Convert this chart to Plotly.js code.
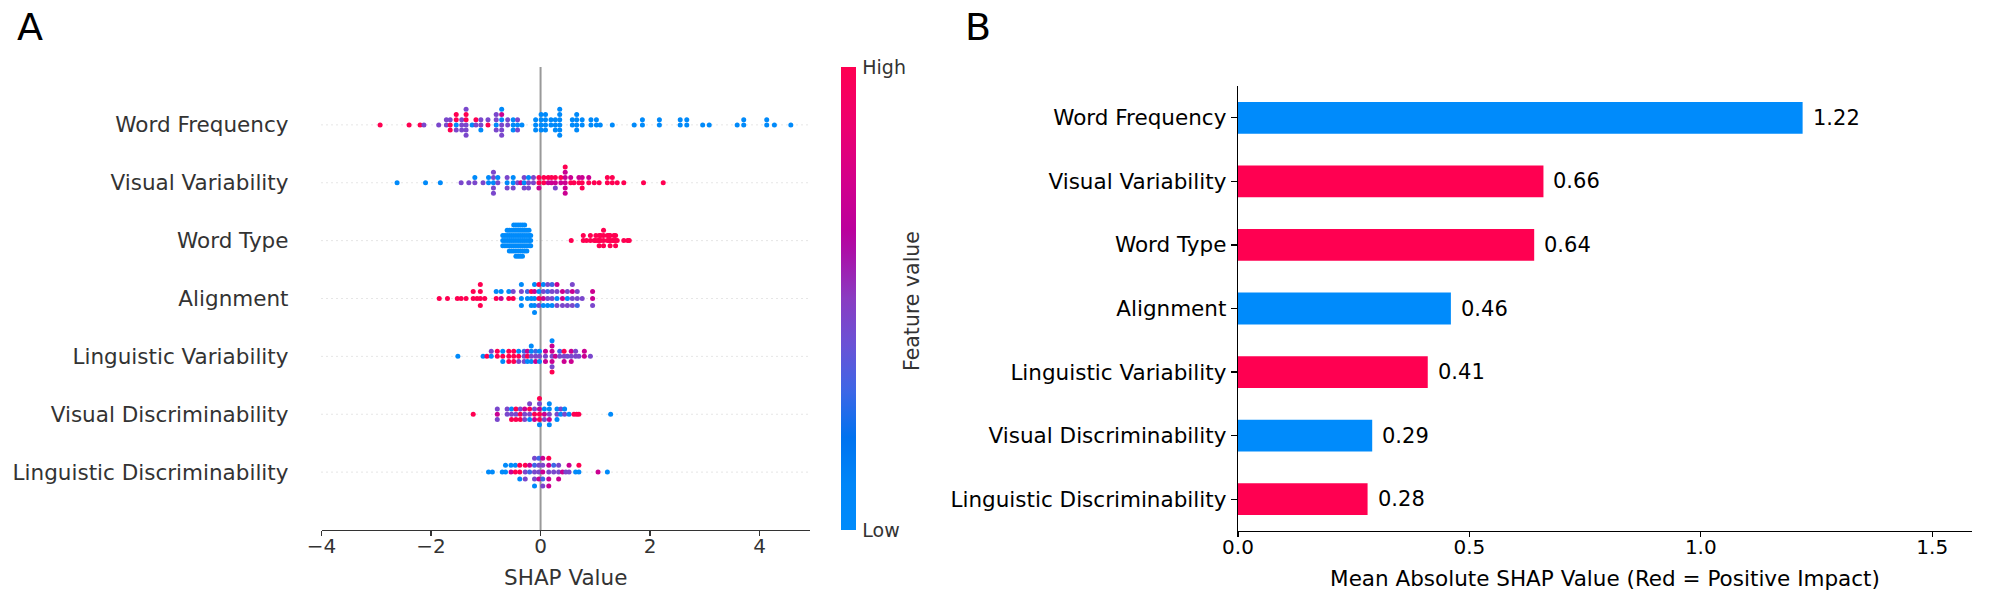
<!DOCTYPE html>
<html><head><meta charset="utf-8">
<script src="https://cdn.plot.ly/plotly-3.0.1.min.js"></script>
<style>html,body{margin:0;padding:0;background:#fff}#chart{width:2000px;height:600px}</style>
</head><body><div id="chart"></div>
<script>
// Feature names, top to bottom
const features = ['Word Frequency','Visual Variability','Word Type','Alignment',
  'Linguistic Variability','Visual Discriminability','Linguistic Discriminability'];

// Feature-value levels (0 = low, 1 = high)
const R = 1, M = 0.72, P = 0.45, V = 0.3, B = 0.03;

// Beeswarm data: [SHAP value, [feature values of samples at that SHAP value]]
const wordFrequency = [
  [-2.93,[R]],[-2.40,[R]],[-2.20,[R]],[-2.13,[P]],[-1.86,[P]],
  [-1.72,[P,P]],[-1.65,[R,P,R]],[-1.54,[B,R,P,R]],[-1.44,[P,P,P]],
  [-1.36,[P,R,P,R,P,P]],[-1.25,[B]],[-1.18,[P,R]],[-1.09,[P,P,B]],
  [-0.96,[R,P]],[-0.81,[B,P,P,P]],[-0.71,[P,B,P,M,P,B]],[-0.60,[P,P]],
  [-0.50,[B,B,B]],[-0.42,[B,P,P]],[-0.34,[B]],
  [-0.09,[B,B,B]],[0.01,[B,B,B,B]],[0.09,[B,B,B,B]],[0.19,[B,B]],[0.27,[B,B,B]],
  [0.35,[B,B,B,B,B,B]],[0.58,[B,B]],[0.66,[B,B,B,B]],[0.76,[B,B]],[0.92,[B,B]],
  [1.02,[B,B]],[1.09,[B]],[1.31,[B]],[1.71,[B]],[1.86,[B,B]],[2.17,[B,B]],
  [2.55,[B,B]],[2.67,[B,B]],[2.96,[B]],[3.08,[B]],[3.59,[B]],[3.71,[B,B]],
  [4.13,[B,B]],[4.27,[B]],[4.57,[B]]
];
const visualVariability = [
  [-2.62,[B]],[-2.10,[B]],[-1.83,[B]],[-1.45,[P]],[-1.31,[P]],[-1.20,[P,B]],
  [-1.05,[P]],[-0.95,[B,B]],[-0.86,[B,P,P,P,P]],[-0.78,[P,B]],[-0.61,[B,P,P]],
  [-0.50,[B,B,P]],[-0.42,[P]],[-0.36,[M]],[-0.30,[B,P,P]],[-0.22,[P,B,P]],
  [-0.13,[P,P]],[-0.03,[R,R,M]],[0.06,[R,R]],[0.14,[M,R]],[0.20,[M,R]],
  [0.27,[M,R,P]],[0.37,[M,R]],[0.45,[M,M,M,M,M,R]],[0.55,[R,M]],[0.61,[R]],
  [0.70,[R,M]],[0.76,[R,M,R]],[0.88,[R,M]],[0.98,[R]],[1.07,[R]],[1.22,[R,R]],
  [1.31,[R,R]],[1.40,[R]],[1.52,[R]],[1.88,[R]],[2.24,[R]]
];
const wordType = [
  [-0.69,[0,0,0]],[-0.65,[0,0,0]],[-0.61,[0,0,0,0]],[-0.57,[0,0,0,0,0]],[-0.53,[0,0,0,0,0]],
  [-0.49,[0,0,0,0,0,0]],[-0.45,[0,0,0,0,0,0,0]],[-0.41,[0,0,0,0,0,0,0]],
  [-0.37,[0,0,0,0,0,0,0]],[-0.33,[0,0,0,0,0,0,0]],[-0.29,[0,0,0,0,0,0]],
  [-0.25,[0,0,0,0,0]],[-0.21,[0,0,0,0]],[-0.18,[0,0,0]],
  [0.56,[1]],[0.78,[1,1]],[0.84,[1]],[0.91,[1,1]],[0.98,[1]],[1.01,[1,1]],[1.05,[1]],
  [1.07,[1,1,1]],[1.10,[1,1]],[1.15,[1,1,1,1]],[1.22,[1,1]],[1.25,[1,1]],[1.27,[1,1,1]],
  [1.31,[1]],[1.34,[1,1]],[1.37,[1,1,1]],[1.40,[1]],[1.52,[1]],[1.59,[1]],[1.62,[1]]
];
const alignment = [
  [-1.85,[R]],[-1.70,[R]],[-1.52,[R]],[-1.45,[R]],[-1.36,[R]],[-1.23,[R,R]],[-1.16,[R]],
  [-1.10,[R,R,R,R]],[-1.02,[R]],[-0.81,[R,B]],[-0.72,[M,B]],[-0.58,[R,B]],[-0.50,[R,P]],
  [-0.35,[B,P,B,B]],[-0.24,[B,V]],[-0.17,[B,R,B]],[-0.11,[B,M,B,B,B]],[-0.03,[R,B,P,R]],
  [0.05,[M,P,B,B]],[0.13,[P,V,B,P]],[0.21,[P,P,B,V]],[0.30,[B,P,P,M]],[0.40,[M,M,P]],
  [0.49,[B,P,P]],[0.58,[P,M,P,P]],[0.67,[P,P,V]],[0.76,[P]],[0.95,[M,M,P]]
];
const linguisticVariability = [
  [-1.51,[B]],[-1.05,[B]],[-0.98,[R]],[-0.90,[B,P]],[-0.79,[R,R]],[-0.69,[R,B,B]],
  [-0.58,[R,R,R]],[-0.49,[R,R,R]],[-0.40,[R,B,P]],[-0.30,[P,V,P]],[-0.24,[R,M,B]],
  [-0.17,[P,B,B,B]],[-0.09,[P,V,M]],[-0.02,[P,B,B]],[0.09,[P,M,M]],
  [0.21,[P,M,M,M,P,B,R]],[0.27,[M]],[0.35,[P,V]],[0.43,[P,R,M]],[0.49,[P]],
  [0.56,[P,M,M]],[0.64,[P,P]],[0.70,[P]],[0.80,[M,M]],[0.91,[P]]
];
const visualDiscriminability = [
  [-1.23,[R]],[-0.79,[M,P,P]],[-0.61,[P,P]],[-0.53,[P,B,R]],[-0.45,[P,R,R]],
  [-0.37,[R,P,R]],[-0.29,[P,M,P]],[-0.20,[P,R,B,P]],[-0.11,[R,P,M]],
  [-0.02,[R,M,R,P,B,R]],[0.07,[M,B,P]],[0.16,[P,B,M,B,B]],[0.30,[P,B,B]],
  [0.37,[B,P]],[0.44,[P,B]],[0.52,[B]],[0.61,[R]],[0.66,[R]],[0.70,[R]],[1.28,[B]]
];
const linguisticDiscriminability = [
  [-0.95,[B]],[-0.88,[B]],[-0.70,[B]],[-0.64,[B,B]],[-0.54,[M,B]],[-0.46,[R,B]],
  [-0.38,[R,R,B]],[-0.28,[P,R,P]],[-0.20,[V,M]],[-0.11,[P,V,P,P,B]],
  [-0.03,[P,P,M,V]],[0.04,[M,P,V,M,P]],[0.15,[P,M,M,R,M]],[0.24,[P,V]],
  [0.33,[P,P,M]],[0.40,[M]],[0.46,[P]],[0.52,[P,M]],[0.64,[B]],[0.70,[B,R]],
  [1.05,[M]],[1.22,[B]]
];

// Panel B data
const meanAbsShap = [1.22, 0.66, 0.64, 0.46, 0.41, 0.29, 0.28];
const positiveImpact = [false, true, true, false, true, false, true];

const rows = [wordFrequency, visualVariability, wordType, alignment,
  linguisticVariability, visualDiscriminability, linguisticDiscriminability];

// SHAP-style beeswarm layering
function beeswarm(vals) {
  const N = vals.length, nbins = 100;
  const mn = Math.min(...vals), mx = Math.max(...vals);
  const quant = vals.map(v => Math.round(nbins * (v - mn) / (mx - mn + 1e-8)));
  const inds = vals.map((_, i) => i).sort((a, b) => quant[a] - quant[b]);
  let layer = 0, last = -1;
  const ys = new Array(N).fill(0);
  for (const ind of inds) {
    if (quant[ind] !== last) layer = 0;
    ys[ind] = Math.ceil(layer / 2) * ((layer % 2) * 2 - 1);
    layer++; last = quant[ind];
  }
  const m = Math.max(...ys.map(y => y + 1));
  return ys.map(y => y * 0.9 * (0.4 / m));
}

const xs = [], ys = [], cs = [];
rows.forEach((row, i) => {
  const pos = features.length - 1 - i;
  const vals = [], feats = [];
  row.forEach(([v, fs]) => fs.forEach(f => { vals.push(v); feats.push(f); }));
  const off = beeswarm(vals);
  vals.forEach((v, k) => { xs.push(v); ys.push(pos + off[k]); cs.push(feats[k]); });
});

const shapScale = [[0,'#008bfb'],[0.1,'#0086f8'],[0.2,'#0072ef'],[0.3,'#3d66e6'],
  [0.4,'#6a52d6'],[0.5,'#8a3cc2'],[0.6,'#ab10a8'],[0.65,'#bb009c'],[0.75,'#d2008c'],
  [0.87,'#ec0070'],[1,'#ff0051']];

const FONT = 'DejaVu Sans';
const W = 2000, H = 600;

const swarm = {
  type: 'scatter', mode: 'markers', x: xs, y: ys, xaxis: 'x', yaxis: 'y',
  hoverinfo: 'skip',
  marker: {
    size: 5, color: cs, cmin: 0, cmax: 1, colorscale: shapScale, line: {width: 0},
    showscale: true,
    colorbar: {
      x: 841 / W, xanchor: 'left', xpad: 0, ypad: 0,
      y: 70 / H, yanchor: 'bottom', len: 463, lenmode: 'pixels',
      thickness: 15, thicknessmode: 'pixels', outlinewidth: 0,
      tickvals: [0, 1], ticktext: ['Low', 'High'],
      ticks: 'outside', ticklen: 3, tickcolor: 'rgba(0,0,0,0)',
      tickfont: {family: FONT, size: 19, color: '#333'}
    }
  }
};

const bars = {
  type: 'bar', orientation: 'h', x: meanAbsShap, y: features,
  xaxis: 'x2', yaxis: 'y2', width: 0.5, hoverinfo: 'skip',
  marker: {color: positiveImpact.map(p => p ? '#ff0051' : '#008bfb'), line: {width: 0}}
};

const shapes = features.map((_, i) => ({
  type: 'line', xref: 'x domain', yref: 'y', x0: 0, x1: 1, y0: i, y1: i,
  line: {color: '#cccccc', width: 1, dash: '1px,4px'}, layer: 'below'
}));
shapes.push({type: 'line', xref: 'x', yref: 'y domain', x0: 0, x1: 0, y0: 0, y1: 1,
  line: {color: '#999999', width: 2}, layer: 'below'});

const annotations = meanAbsShap.map((v, i) => ({
  xref: 'x2', yref: 'y2', x: v, y: features[i], text: v.toFixed(2),
  xanchor: 'left', yanchor: 'middle', xshift: 8, showarrow: false,
  font: {family: FONT, size: 21, color: '#000'}
}));
annotations.push(
  {xref: 'paper', yref: 'paper', x: 30 / W, y: 1 - 27 / H, text: 'A', showarrow: false,
   xanchor: 'center', yanchor: 'middle', font: {family: FONT, size: 38, color: '#000'}},
  {xref: 'paper', yref: 'paper', x: 978 / W, y: 1 - 27 / H, text: 'B', showarrow: false,
   xanchor: 'center', yanchor: 'middle', font: {family: FONT, size: 38, color: '#000'}},
  {xref: 'paper', yref: 'paper', x: 912 / W, y: 1 - 301 / H, text: 'Feature value',
   textangle: -90, showarrow: false, xanchor: 'center', yanchor: 'middle',
   font: {family: FONT, size: 20.5, color: '#333'}}
);

const layout = {
  width: W, height: H, margin: {l: 0, r: 0, t: 0, b: 0},
  paper_bgcolor: '#fff', plot_bgcolor: '#fff', showlegend: false,
  font: {family: FONT},
  xaxis: {
    domain: [321.5 / W, 810 / W], range: [-4, 4.92], anchor: 'y',
    tickvals: [-4, -2, 0, 2, 4], ticktext: ['\u22124', '\u22122', '0', '2', '4'],
    ticks: 'outside', ticklen: 5, tickwidth: 1.3, tickcolor: '#333',
    ticklabelstandoff: -7,
    showline: true, linecolor: '#333', linewidth: 1.3,
    showgrid: false, zeroline: false,
    tickfont: {family: FONT, size: 20, color: '#333'},
    title: {text: 'SHAP Value', font: {family: FONT, size: 21.5, color: '#333'}, standoff: 12}
  },
  yaxis: {
    domain: [70 / H, 533 / H], range: [-1, 7], anchor: 'x',
    tickvals: features.map((_, i) => features.length - 1 - i), ticktext: features,
    ticks: '', showline: false, showgrid: false, zeroline: false,
    ticklabelstandoff: 32,
    tickfont: {family: FONT, size: 21.5, color: '#333'}
  },
  xaxis2: {
    domain: [1238 / W, 1972 / W], range: [0, 1.586], anchor: 'y2',
    tickvals: [0, 0.5, 1, 1.5], ticktext: ['0.0', '0.5', '1.0', '1.5'],
    ticks: 'outside', ticklen: 5, tickwidth: 1.3, tickcolor: '#000',
    ticklabelstandoff: -7,
    showline: true, linecolor: '#000', linewidth: 1.3,
    showgrid: false, zeroline: false,
    tickfont: {family: FONT, size: 20, color: '#000'},
    title: {text: 'Mean Absolute SHAP Value (Red = Positive Impact)',
      font: {family: FONT, size: 21.5, color: '#000'}, standoff: 12}
  },
  yaxis2: {
    domain: [69 / H, 514 / H], anchor: 'x2', type: 'category',
    categoryorder: 'array', categoryarray: features.slice().reverse(), range: [-0.5, 6.5],
    ticks: 'outside', ticklen: 6, tickwidth: 1.3, tickcolor: '#000',
    showline: true, linecolor: '#000', linewidth: 1.3,
    showgrid: false, zeroline: false,
    tickfont: {family: FONT, size: 21.5, color: '#000'}
  },
  shapes: shapes,
  annotations: annotations
};

Plotly.newPlot('chart', [swarm, bars], layout, {displayModeBar: false, staticPlot: true});
</script></body></html>
